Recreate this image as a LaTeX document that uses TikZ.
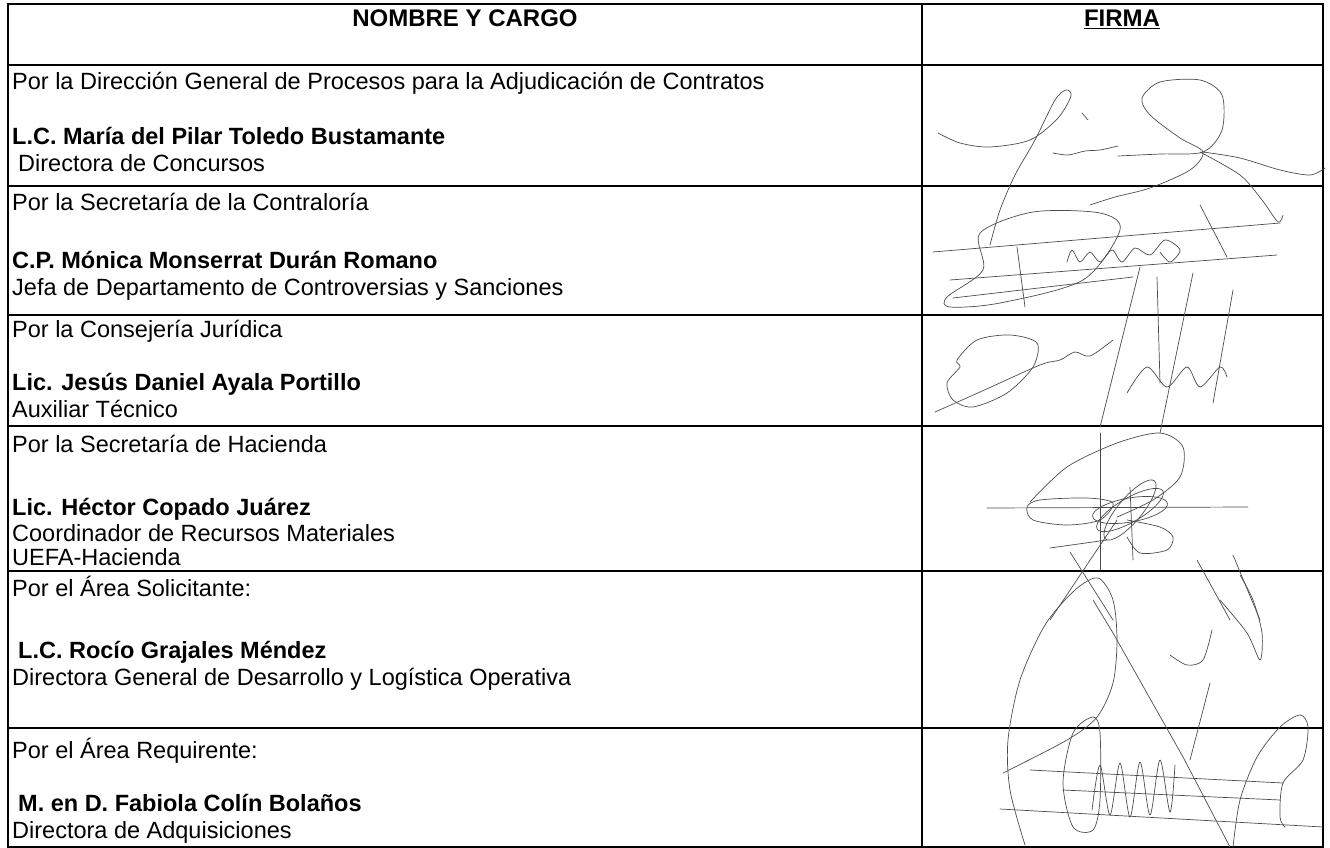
\documentclass[tikz,border=0pt]{standalone}
\usepackage{fontspec}
\setmainfont{Liberation Sans}
\begin{document}
\begin{tikzpicture}[x=1pt,y=-1pt,
    txt/.style={anchor=base west,inner sep=0pt,font=\fontsize{23.5}{27}\selectfont},
    nom/.style={txt,font=\fontsize{23.5}{27}\selectfont\bfseries},
    cab/.style={anchor=base,inner sep=0pt,font=\fontsize{24}{28}\selectfont\bfseries},
    rejilla/.style={line width=1.4pt},
    trazo/.style={black!70,line width=0.7pt,line join=round,line cap=round}]
  \useasboundingbox (0,0) rectangle (1330,848);

  % tabla
  \draw[rejilla] (8,4) rectangle (1323,847);
  \draw[rejilla] (922,4) -- (922,847);
  \foreach \y in {65,186,315,426,571,728}{\draw[rejilla] (8,\y) -- (1323,\y);}

  % encabezado
  \node[cab] (nombre) at (465,27) {NOMBRE Y CARGO};
  \node[cab] (firma) at (1122,27) {\underline{FIRMA}};

  % fila 1
  \node[txt] (dir) at (12,90) {Por la Dirección General de Procesos para la Adjudicación de Contratos};
  \node[nom] (toledo) at (12,145) {L.C. María del Pilar Toledo Bustamante};
  \node[txt] (concursos) at (18,171) {Directora de Concursos};
  % fila 2
  \node[txt] (contra) at (12,210) {Por la Secretaría de la Contraloría};
  \node[nom] (duran) at (12,268) {C.P. Mónica Monserrat Durán Romano};
  \node[txt] (jefa) at (12,295) {Jefa de Departamento de Controversias y Sanciones};
  % fila 3
  \node[txt] (juri) at (12,337) {Por la Consejería Jurídica};
  \node[nom] (ayala) at (12,390) {Lic. Jesús Daniel Ayala Portillo};
  \node[txt] (aux) at (12,417) {Auxiliar Técnico};
  % fila 4
  \node[txt] (hac) at (12,452) {Por la Secretaría de Hacienda};
  \node[nom] (copado) at (12,515) {Lic. Héctor Copado Juárez};
  \node[txt] (coord) at (12,541) {Coordinador de Recursos Materiales};
  \node[txt] (uefa) at (12,565) {UEFA-Hacienda};
  % fila 5
  \node[txt] (soli) at (12,596) {Por el Área Solicitante:};
  \node[nom] (grajales) at (18,658) {L.C. Rocío Grajales Méndez};
  \node[txt] (logis) at (12,685) {Directora General de Desarrollo y Logística Operativa};
  % fila 6
  \node[txt] (requi) at (12,758) {Por el Área Requirente:};
  \node[nom] (colin) at (18,811) {M. en D. Fabiola Colín Bolaños};
  \node[txt] (adqui) at (12,838) {Directora de Adquisiciones};

  % firma 1
  \draw[trazo] plot[smooth] coordinates {(938,133) (960,143) (990,147) (1030,140) (1058,118) (1071,96) (1066,90) (1055,100) (1035,140) (1015,175) (1000,210) (990,245)};
  \draw[trazo] (1082,113) -- (1088,120);
  \draw[trazo] plot[smooth] coordinates {(1053,153) (1068,155) (1085,151) (1100,150) (1118,146)};
  \draw[trazo] plot[smooth] coordinates {(1118,156) (1160,154) (1203,152) (1222,130) (1222,95) (1200,80) (1160,82) (1142,98) (1150,115) (1180,138) (1203,152) (1190,170) (1150,188) (1115,197) (1090,205)};
  \draw[trazo] plot[smooth] coordinates {(1203,152) (1240,158) (1280,170) (1310,175) (1325,168)};
  \draw[trazo] plot[smooth] coordinates {(1200,152) (1240,175) (1262,200) (1278,222) (1283,215)};
  % firma 2
  \draw[trazo] (933,252) -- (1280,223);
  \draw[trazo] (950,280) -- (1277,255);
  \draw[trazo] (953,298) -- (1133,277);
  \draw[trazo] plot[smooth cycle] coordinates {(980,233) (1033,212) (1100,213) (1120,230) (1083,280) (1000,303) (950,307) (947,297) (983,270)};
  \draw[trazo] plot[smooth] coordinates {(1067,262) (1072,250) (1080,262) (1090,252) (1100,262) (1112,250) (1122,262) (1135,248) (1150,255) (1165,240) (1180,250) (1170,262) (1160,252)};
  \draw[trazo] (1017,247) -- (1025,307);
  \draw[trazo] (1200,205) -- (1227,257);
  % firma 3
  \draw[trazo] plot[smooth cycle] coordinates {(960,367) (947,383) (953,400) (973,407) (1007,393) (1033,367) (1037,343) (1010,335) (977,340) (957,360)};
  \draw[trazo] plot[smooth] coordinates {(935,412) (980,392) (1040,365) (1060,360) (1075,352) (1090,356) (1113,340)};
  \draw[trazo] (1140,267) -- (1100,427);
  \draw[trazo] (1157,277) -- (1160,383);
  \draw[trazo] (1193,273) -- (1160,433);
  \draw[trazo] (1233,290) -- (1213,403);
  \draw[trazo] plot[smooth] coordinates {(1127,393) (1147,367) (1167,387) (1187,367) (1200,387) (1220,367) (1227,377)};
  % firma 4
  \draw[trazo] (987,508) -- (1248,507);
  \draw[trazo] plot[smooth cycle] coordinates {(1027,507) (1040,500) (1087,498) (1113,503) (1100,520) (1067,525) (1033,520)};
  \draw[trazo] plot[smooth] coordinates {(1030,502) (1067,467) (1117,443) (1160,433) (1183,447) (1180,477) (1153,500) (1117,517)};
  \foreach \a in {10,30,50}{\draw[trazo,rotate around={\a:(1130,510)}] (1130,510) ellipse (38 and 12);}
  \draw[trazo] plot[smooth] coordinates {(1127,520) (1160,527) (1173,537) (1167,550) (1140,553) (1127,537)};
  \draw[trazo] (1100,433) -- (1100,570);
  \draw[trazo] (1130,487) -- (1133,560);
  \draw[trazo] (1117,520) -- (1050,620);
  \draw[trazo] (1070,552) -- (1113,620);
  \draw[trazo] (1197,560) -- (1230,620);
  \draw[trazo] (1233,555) -- (1260,620);
  \draw[trazo] (1050,548) -- (1107,540);
  % firma 5
  \draw[trazo] plot[smooth] coordinates {(1025,845) (1010,790) (1008,740) (1020,680) (1045,625) (1075,590) (1098,578) (1113,600) (1117,640) (1113,683) (1097,717) (1067,740) (1003,773)};
  \draw[trazo] (1093,600) -- (1113,633) -- (1183,757) -- (1230,847);
  \draw[trazo] plot[smooth] coordinates {(1220,600) (1247,633) (1260,660) (1262,633) (1253,600) (1240,575)};
  \draw[trazo] plot[smooth] coordinates {(1170,655) (1187,665) (1203,660) (1212,630)};
  \draw[trazo] (1210,683) -- (1190,760);
  % firma 6
  \draw[trazo] (1030,770) -- (1283,783);
  \draw[trazo] (1000,809) -- (1323,827);
  \draw[trazo] (1063,790) -- (1280,800);
  \draw[trazo] plot[smooth cycle] coordinates {(1093,717) (1073,733) (1063,783) (1073,827) (1093,830) (1100,800) (1100,733)};
  \draw[trazo] plot[smooth] coordinates {(1092,810) (1100,765) (1110,815) (1120,763) (1130,817) (1140,762) (1150,815) (1160,760) (1170,812) (1175,765)};
  \draw[trazo] plot[smooth] coordinates {(1233,847) (1240,800) (1257,757) (1280,727) (1300,715) (1308,727) (1303,760) (1283,783) (1280,817) (1285,827)};
\end{tikzpicture}
\end{document}
